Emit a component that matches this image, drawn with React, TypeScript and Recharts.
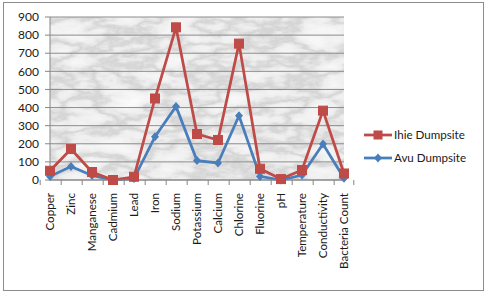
import React from 'react';
import { LineChart, Line, XAxis, YAxis, CartesianGrid } from 'recharts';

const parameters = [
  'Copper', 'Zinc', 'Manganese', 'Cadmium', 'Lead', 'Iron', 'Sodium', 'Potassium',
  'Calcium', 'Chlorine', 'Fluorine', 'pH', 'Temperature', 'Conductivity', 'Bacteria Count',
];
const ihie = [51, 171, 44, 0, 18, 450, 843, 254, 221, 753, 62, 5, 55, 383, 36];
const avu = [20, 75, 25, 0, 8, 239, 406, 107, 94, 355, 20, 0, 27, 199, 10];
const yTicks = [0, 100, 200, 300, 400, 500, 600, 700, 800, 900];

const data = parameters.map((name, i) => ({ name, ihie: ihie[i], avu: avu[i] }));

const RED = '#BE4B48';
const BLUE = '#4A7EBB';
const FONT = 'Lato, "Liberation Sans", sans-serif';
const BAND = 294 / parameters.length;
const VEINS = '0.98 0.95 0.91 0.86 0.66 0.86 0.91 0.95 0.98';

const SquareDot = (props: any) => {
  const { cx, cy } = props;
  if (cx == null || cy == null) return null;
  return <rect x={cx - 4.5} y={cy - 4.5} width={9} height={9} fill={RED} stroke={RED} />;
};

const DiamondDot = (props: any) => {
  const { cx, cy } = props;
  if (cx == null || cy == null) return null;
  return <path d={`M${cx},${cy - 4.5}L${cx + 4},${cy}L${cx},${cy + 4.5}L${cx - 4},${cy}Z`} fill={BLUE} />;
};

const XTick = (props: any) => {
  const { x, y, payload, index } = props;
  return (
    <g transform={`translate(${x},${y})`}>
      <line x1={-BAND / 2} x2={-BAND / 2} y1={0} y2={5} stroke="#868686" />
      {index === parameters.length - 1 && (
        <line x1={BAND / 2} x2={BAND / 2} y1={0} y2={5} stroke="#868686" />
      )}
      <text transform="rotate(-90)" x={-13} y={4} textAnchor="end" fontSize={11.6} fill="#1a1a1a" fontFamily={FONT}>
        {payload.value}
      </text>
    </g>
  );
};

function LegendRow({ label, color, marker }: { label: string; color: string; marker: 'square' | 'diamond' }) {
  return (
    <div style={{ display: 'flex', alignItems: 'center', height: 23 }}>
      <svg width={29} height={12}>
        <line x1={0} x2={28} y1={6} y2={6} stroke={color} strokeWidth={2.75} />
        {marker === 'square' ? (
          <rect x={9.5} y={1.5} width={9} height={9} fill={color} />
        ) : (
          <path d="M14,1.5L18,6L14,10.5L10,6Z" fill={color} />
        )}
      </svg>
      <span style={{ fontSize: 11.6, marginLeft: 1, color: '#1a1a1a' }}>{label}</span>
    </div>
  );
}

export default function App() {
  return (
    <div style={{ position: 'fixed', left: 0, top: 0, width: 486, height: 293, background: '#fff', fontFamily: FONT }}>
      <div style={{ position: 'absolute', left: 3, top: 2, width: 479, height: 287, border: '1px solid #8c8c8c' }} />
      <div style={{ position: 'absolute', left: 0, top: 0 }}>
        <LineChart width={486} height={293} data={data} margin={{ top: 17, right: 142, left: 0, bottom: 0 }}>
          <defs>
            <filter id="marble" x="0" y="0" width="1" height="1" filterUnits="objectBoundingBox">
              <feTurbulence type="fractalNoise" baseFrequency="0.02 0.045" numOctaves={5} seed={11} result="n" />
              <feColorMatrix in="n" type="matrix" values="1 0 0 0 0  1 0 0 0 0  1 0 0 0 0  0 0 0 0 1" result="g" />
              <feComponentTransfer in="g">
                <feFuncR type="table" tableValues={VEINS} />
                <feFuncG type="table" tableValues={VEINS} />
                <feFuncB type="table" tableValues={VEINS} />
              </feComponentTransfer>
            </filter>
            <pattern id="marbleFill" patternUnits="userSpaceOnUse" x={0} y={0} width={486} height={293}>
              <rect x={0} y={0} width={486} height={293} fill="#eee" filter="url(#marble)" />
            </pattern>
          </defs>
          <CartesianGrid vertical={false} stroke="#8c8c8c" strokeWidth={1} fill="url(#marbleFill)" fillOpacity={1} />
          <XAxis
            dataKey="name"
            interval={0}
            height={113}
            tickSize={0}
            tickMargin={0}
            stroke="#868686"
            tick={<XTick />}
          />
          <YAxis
            domain={[0, 900]}
            ticks={yTicks}
            interval={0}
            width={50}
            tickSize={5}
            tickMargin={6}
            stroke="#868686"
            tick={{ fill: '#1a1a1a', fontSize: 12, fontFamily: FONT }}
          />
          <Line dataKey="avu" name="Avu Dumpsite" stroke={BLUE} strokeWidth={2.75} dot={<DiamondDot />} isAnimationActive={false} />
          <Line dataKey="ihie" name="Ihie Dumpsite" stroke={RED} strokeWidth={2.75} dot={<SquareDot />} isAnimationActive={false} />
        </LineChart>
      </div>
      <div style={{ position: 'absolute', left: 364, top: 123 }}>
        <LegendRow label="Ihie Dumpsite" color={RED} marker="square" />
        <LegendRow label="Avu Dumpsite" color={BLUE} marker="diamond" />
      </div>
    </div>
  );
}
